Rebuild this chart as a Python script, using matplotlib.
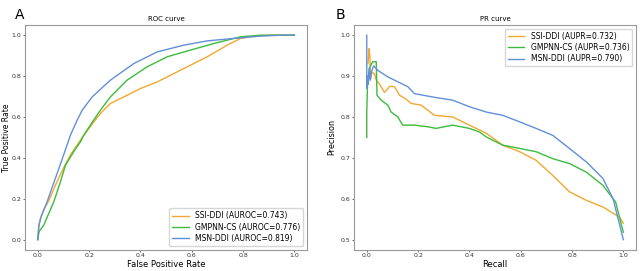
import numpy as np
import matplotlib.pyplot as plt

# ROC curve points
ssi_fpr = [0.0, 0.004, 0.01, 0.025, 0.043, 0.07, 0.1, 0.13, 0.179, 0.244, 0.283, 0.335, 0.4, 0.465, 0.53, 0.595, 0.66, 0.738, 0.79, 0.85, 0.92, 1.0]
ssi_tpr = [0.0, 0.06, 0.103, 0.15, 0.19, 0.27, 0.35, 0.42, 0.51, 0.617, 0.666, 0.698, 0.739, 0.771, 0.812, 0.853, 0.894, 0.951, 0.984, 0.997, 1.0, 1.0]

gmp_fpr = [0.0, 0.005, 0.023, 0.04, 0.062, 0.085, 0.108, 0.14, 0.166, 0.179, 0.21, 0.244, 0.283, 0.348, 0.426, 0.504, 0.595, 0.686, 0.79, 0.87, 0.95, 1.0]
gmp_tpr = [0.0, 0.04, 0.07, 0.12, 0.184, 0.27, 0.364, 0.43, 0.478, 0.51, 0.57, 0.633, 0.698, 0.78, 0.845, 0.894, 0.927, 0.959, 0.992, 1.0, 1.0, 1.0]

msn_fpr = [0.0, 0.004, 0.015, 0.036, 0.06, 0.082, 0.105, 0.127, 0.15, 0.173, 0.212, 0.283, 0.374, 0.465, 0.569, 0.66, 0.764, 0.865, 0.95, 1.0]
msn_tpr = [0.0, 0.07, 0.12, 0.184, 0.27, 0.347, 0.43, 0.51, 0.575, 0.633, 0.698, 0.78, 0.861, 0.918, 0.951, 0.972, 0.984, 0.995, 1.0, 1.0]

# PR curve points
ssi_rec = [0.005, 0.009, 0.012, 0.015, 0.02, 0.03, 0.037, 0.05, 0.069, 0.09, 0.108, 0.128, 0.15, 0.173, 0.212, 0.264, 0.335, 0.4, 0.466, 0.53, 0.596, 0.66, 0.725, 0.79, 0.856, 0.92, 0.985, 1.0]
ssi_pre = [0.93, 0.967, 0.95, 0.894, 0.91, 0.905, 0.89, 0.88, 0.86, 0.875, 0.874, 0.853, 0.845, 0.833, 0.829, 0.804, 0.8, 0.78, 0.76, 0.731, 0.715, 0.694, 0.657, 0.617, 0.596, 0.58, 0.555, 0.54]

gmp_rec = [0.0, 0.0, 0.003, 0.01, 0.015, 0.023, 0.037, 0.04, 0.056, 0.082, 0.095, 0.121, 0.14, 0.186, 0.238, 0.27, 0.335, 0.4, 0.44, 0.466, 0.53, 0.596, 0.66, 0.725, 0.79, 0.856, 0.92, 0.97, 1.0]
gmp_pre = [0.75, 0.81, 0.88, 0.918, 0.925, 0.935, 0.935, 0.853, 0.841, 0.829, 0.812, 0.8, 0.78, 0.78, 0.776, 0.772, 0.78, 0.772, 0.763, 0.751, 0.731, 0.723, 0.715, 0.698, 0.686, 0.665, 0.633, 0.592, 0.518]

msn_rec = [0.0, 0.0, 0.003, 0.006, 0.01, 0.014, 0.018, 0.027, 0.043, 0.082, 0.121, 0.16, 0.186, 0.264, 0.335, 0.4, 0.466, 0.53, 0.596, 0.66, 0.725, 0.79, 0.856, 0.92, 0.96, 0.98, 1.0]
msn_pre = [1.0, 0.87, 0.9, 0.88, 0.92, 0.89, 0.91, 0.925, 0.914, 0.898, 0.886, 0.874, 0.857, 0.848, 0.841, 0.825, 0.812, 0.804, 0.788, 0.772, 0.755, 0.723, 0.69, 0.65, 0.6, 0.55, 0.5]

labels_roc = ['SSI-DDI (AUROC=0.743)', 'GMPNN-CS (AUROC=0.776)', 'MSN-DDI (AUROC=0.819)']
labels_pr = ['SSI-DDI (AUPR=0.732)', 'GMPNN-CS (AUPR=0.736)', 'MSN-DDI (AUPR=0.790)']
cores = ['#F0A830', '#3DBB3D', '#6090D8']

fig = plt.figure(figsize=(6.4, 2.71), dpi=100)
ax1 = fig.add_axes([0.039, 0.078, 0.441, 0.83])
ax2 = fig.add_axes([0.553, 0.078, 0.441, 0.83])

ax1.plot(ssi_fpr, ssi_tpr, color=cores[0], lw=1.0, label=labels_roc[0])
ax1.plot(gmp_fpr, gmp_tpr, color=cores[1], lw=1.0, label=labels_roc[1])
ax1.plot(msn_fpr, msn_tpr, color=cores[2], lw=1.0, label=labels_roc[2])

ax2.plot(ssi_rec, ssi_pre, color=cores[0], lw=1.0, label=labels_pr[0])
ax2.plot(gmp_rec, gmp_pre, color=cores[1], lw=1.0, label=labels_pr[1])
ax2.plot(msn_rec, msn_pre, color=cores[2], lw=1.0, label=labels_pr[2])

ax1.set_xlim(-0.05, 1.05)
ax1.set_ylim(-0.05, 1.05)
ax1.set_xticks(np.arange(0, 1.01, 0.2))
ax1.set_yticks(np.arange(0, 1.01, 0.2))
ax2.set_xlim(-0.05, 1.05)
ax2.set_ylim(0.475, 1.025)
ax2.set_xticks(np.arange(0, 1.01, 0.2))
ax2.set_yticks([0.5, 0.6, 0.7, 0.8, 0.9, 1.0])

for ax in (ax1, ax2):
    ax.tick_params(labelsize=4.5, length=1.5, width=0.5, pad=1, colors='#333333')
    for s in ax.spines.values():
        s.set_color('#999999')
        s.set_linewidth(0.8)

ax1.set_title('ROC curve', fontsize=5, pad=3)
ax1.set_xlabel('False Positive Rate', fontsize=6, labelpad=1)
ax1.set_ylabel('True Positive Rate', fontsize=5.5)
ax1.yaxis.set_label_coords(-0.05, 0.5)
ax2.set_title('PR curve', fontsize=5, pad=3)
ax2.set_xlabel('Recall', fontsize=6, labelpad=1)
ax2.set_ylabel('Precision', fontsize=5.8)
ax2.yaxis.set_label_coords(-0.062, 0.5)

ax1.legend(loc='lower right', fontsize=5.5, handlelength=2.2, borderpad=0.4, labelspacing=0.3)
ax2.legend(loc='upper right', fontsize=5.5, handlelength=2.2, borderpad=0.4, labelspacing=0.3)

fig.text(0.023, 0.93, 'A', fontsize=10)
fig.text(0.524, 0.93, 'B', fontsize=10)

fig.savefig('out.png', dpi=100)
